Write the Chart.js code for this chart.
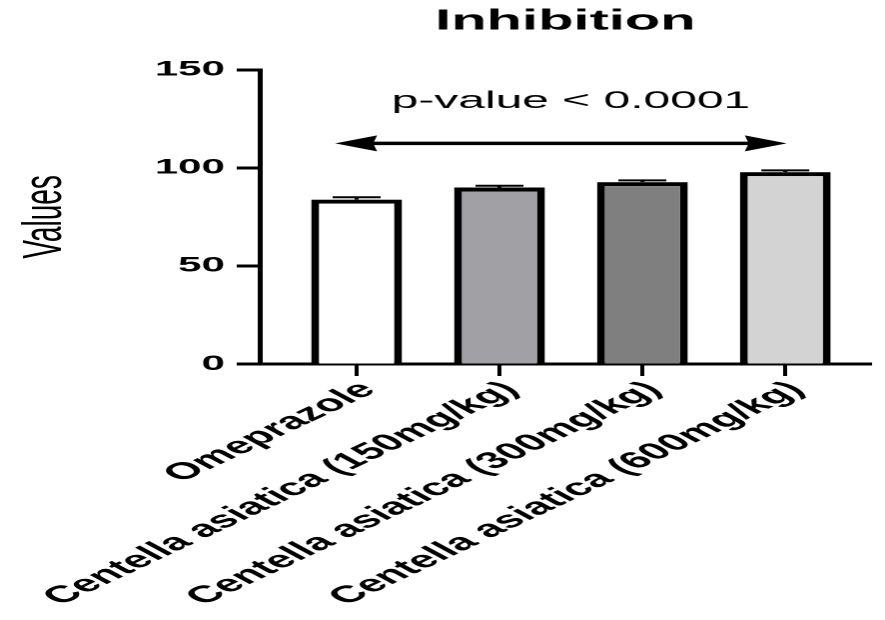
<!DOCTYPE html>
<html>
<head>
<meta charset="utf-8">
<script src="https://cdn.jsdelivr.net/npm/chart.js@4/dist/chart.umd.min.js"></script>
<style>
  html, body { margin: 0; padding: 0; background: #fff; overflow: hidden; }
  #wrap { width: 885px; height: 620px; position: relative; }
  #c { position: absolute; left: 0; top: 0; transform: scaleX(1.99774); transform-origin: 0 0; }
</style>
</head>
<body>
<div id="wrap"><canvas id="c" width="443" height="620"></canvas></div>
<script>
// ---- data ----
const categories = ['Omeprazole', 'Centella asiatica (150mg/kg)', 'Centella asiatica (300mg/kg)', 'Centella asiatica (600mg/kg)'];
const inhibition = [83.8, 90.0, 92.7, 97.8];
const errors = [1.2, 0.9, 0.9, 0.9];
const barColors = ['#ffffff', '#a1a0a5', '#7f7f7f', '#d3d3d3'];
const yTicks = [0, 50, 100, 150];
const titleText = 'Inhibition';
const yAxisTitle = 'Values';
const annotationText = 'p-value < 0.0001';
const arrowFrom = -0.15, arrowTo = 3.01, arrowY = 112.5, textX = 1.5, textY = 134;

const points = inhibition.map((v, i) => ({ x: i, y: v }));

const extrasPlugin = {
  id: 'extras',
  afterDatasetsDraw(chart) {
    const ctx = chart.ctx, xs = chart.scales.x, ys = chart.scales.y;
    ctx.save();
    // error caps
    ctx.strokeStyle = '#000';
    ctx.lineWidth = 2;
    inhibition.forEach((v, i) => {
      const cx = xs.getPixelForValue(i);
      const yTop = ys.getPixelForValue(v);
      const yErr = ys.getPixelForValue(v + errors[i]);
      ctx.beginPath();
      ctx.moveTo(cx, yTop); ctx.lineTo(cx, yErr);
      ctx.moveTo(cx - 12, yErr); ctx.lineTo(cx + 12, yErr);
      ctx.stroke();
    });
    // arrow
    const x1 = xs.getPixelForValue(arrowFrom), x2 = xs.getPixelForValue(arrowTo);
    const ay = ys.getPixelForValue(arrowY);
    ctx.lineWidth = 3.5;
    ctx.beginPath(); ctx.moveTo(x1 + 15, ay); ctx.lineTo(x2 - 15, ay); ctx.stroke();
    ctx.fillStyle = '#000';
    [[x1, 1], [x2, -1]].forEach(([tx, d]) => {
      ctx.beginPath();
      ctx.moveTo(tx, ay);
      ctx.lineTo(tx + d * 21, ay - 8);
      ctx.lineTo(tx + d * 19, ay);
      ctx.lineTo(tx + d * 21, ay + 8);
      ctx.closePath();
      ctx.fill();
    });
    // text
    ctx.font = '24px "Liberation Sans", Arial, sans-serif';
    ctx.textAlign = 'center';
    ctx.textBaseline = 'middle';
    ctx.fillText(annotationText, xs.getPixelForValue(textX), ys.getPixelForValue(textY));
    ctx.restore();
  }
};

new Chart(document.getElementById('c'), {
  type: 'bar',
  data: {
    datasets: [{
      data: points,
      backgroundColor: barColors,
      borderColor: '#000',
      borderWidth: { left: 4, right: 4, top: 4, bottom: 0 },
      borderSkipped: false,
      barPercentage: 0.636,
      categoryPercentage: 1
    }]
  },
  options: {
    responsive: false,
    animation: false,
    devicePixelRatio: 2,
    layout: { padding: { left: 0, right: 7, top: 0, bottom: 0 } },
    plugins: {
      legend: { display: false },
      tooltip: { enabled: false },
      title: {
        display: true,
        text: titleText,
        fullSize: false,
        color: '#000',
        font: { family: '"Liberation Sans", Arial, sans-serif', size: 29, weight: 'bold' },
        padding: { top: 4, bottom: 31 }
      }
    },
    scales: {
      x: {
        type: 'linear',
        offset: false,
        min: -0.678,
        max: 3.6,
        afterBuildTicks: (s) => { s.ticks = categories.map((_, i) => ({ value: i })); },
        afterFit: (s) => { s.height = 256; },
        grid: { offset: false, drawOnChartArea: false, drawTicks: true, tickLength: 12, tickWidth: 2, tickColor: '#000' },
        border: { display: true, color: '#000', width: 3 },
        ticks: {
          color: '#000',
          minRotation: 43,
          maxRotation: 43,
          autoSkip: false,
          padding: 0,
          labelOffset: 6,
          font: { family: '"Liberation Sans", Arial, sans-serif', size: 23.5, weight: 'bold' },
          callback: (v) => categories[v] ?? ''
        }
      },
      y: {
        min: 0,
        max: 150,
        afterBuildTicks: (s) => { s.ticks = yTicks.map(v => ({ value: v })); },
        afterFit: (s) => { s.width = 130; },
        grid: { drawOnChartArea: false, drawTicks: true, tickLength: 11.5, tickWidth: 3, tickColor: '#000' },
        border: { display: true, color: '#000', width: 2.5 },
        ticks: {
          color: '#000',
          padding: 6,
          font: { family: '"Liberation Sans", Arial, sans-serif', size: 21, weight: 'bold' }
        },
        title: {
          display: true,
          text: yAxisTitle,
          color: '#000',
          padding: { top: 6, bottom: 0 },
          font: { family: '"Liberation Sans Narrow", "Liberation Sans", Arial, sans-serif', size: 28 }
        }
      }
    }
  },
  plugins: [extrasPlugin]
});
</script>
</body>
</html>
